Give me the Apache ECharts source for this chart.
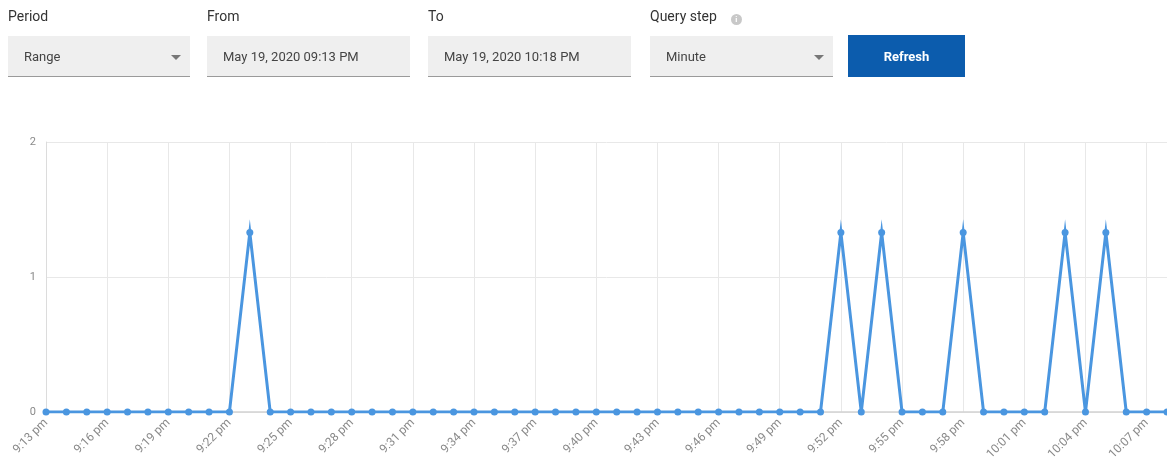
<!DOCTYPE html>
<html>
<head>
<meta charset="utf-8">
<script src="https://cdn.jsdelivr.net/npm/echarts@6/dist/echarts.min.js"></script>
<style>
  html, body { margin: 0; padding: 0; background: #fff; font-family: Roboto, "Noto Sans", sans-serif; }
  #wrap { position: relative; width: 1167px; height: 472px; overflow: hidden; }
  #chart { position: absolute; left: 0; top: 0; width: 1167px; height: 472px; }
  .lbl { position: absolute; top: 8px; font-size: 14px; color: #333; }
  .box { position: absolute; top: 36px; height: 41px; background: #efefef; border-bottom: 1px solid #9a9a9a;
         box-sizing: border-box; font-size: 13px; color: #444; line-height: 42px; padding-left: 16px; }
  .arrow { position: absolute; right: 9px; top: 19px; width: 0; height: 0;
           border-left: 5px solid transparent; border-right: 5px solid transparent; border-top: 5px solid #777; }
  .info { display: inline-block; width: 11px; height: 11px; border-radius: 50%; background: #c8c8c8;
          margin-left: 14px; vertical-align: -1px; color: #fff; font-size: 8px; font-weight: bold;
          text-align: center; line-height: 11px; }
  .btn { position: absolute; left: 848px; top: 35px; width: 117px; height: 42px; background: #0c5cad;
         color: #fff; font-weight: bold; font-size: 13px; text-align: center; line-height: 44px; }
</style>
</head>
<body>
<div id="wrap">
  <div id="chart"></div>
  <div class="lbl" style="left:8px">Period</div>
  <div class="box" style="left:8px;width:182px">Range<span class="arrow"></span></div>
  <div class="lbl" style="left:207px">From</div>
  <div class="box" style="left:207px;width:203px">May 19, 2020 09:13 PM</div>
  <div class="lbl" style="left:428px">To</div>
  <div class="box" style="left:428px;width:203px">May 19, 2020 10:18 PM</div>
  <div class="lbl" style="left:650px">Query step<span class="info">i</span></div>
  <div class="box" style="left:650px;width:183px">Minute<span class="arrow"></span></div>
  <div class="btn">Refresh</div>
</div>
<script>
// One sample per minute, 9:13 pm to 10:08 pm
const minutes = [
  '9:13 pm','9:14 pm','9:15 pm','9:16 pm','9:17 pm','9:18 pm','9:19 pm','9:20 pm',
  '9:21 pm','9:22 pm','9:23 pm','9:24 pm','9:25 pm','9:26 pm','9:27 pm','9:28 pm',
  '9:29 pm','9:30 pm','9:31 pm','9:32 pm','9:33 pm','9:34 pm','9:35 pm','9:36 pm',
  '9:37 pm','9:38 pm','9:39 pm','9:40 pm','9:41 pm','9:42 pm','9:43 pm','9:44 pm',
  '9:45 pm','9:46 pm','9:47 pm','9:48 pm','9:49 pm','9:50 pm','9:51 pm','9:52 pm',
  '9:53 pm','9:54 pm','9:55 pm','9:56 pm','9:57 pm','9:58 pm','9:59 pm','10:00 pm',
  '10:01 pm','10:02 pm','10:03 pm','10:04 pm','10:05 pm','10:06 pm','10:07 pm','10:08 pm'
];
const counts = [
  0, 0, 0, 0, 0, 0, 0, 0,
  0, 0, 1.33, 0, 0, 0, 0, 0,
  0, 0, 0, 0, 0, 0, 0, 0,
  0, 0, 0, 0, 0, 0, 0, 0,
  0, 0, 0, 0, 0, 0, 0, 1.33,
  0, 1.33, 0, 0, 0, 1.33, 0, 0,
  0, 0, 1.33, 0, 1.33, 0, 0, 0
];
const yTicks = [0, 1, 2];

const chart = echarts.init(document.getElementById('chart'));
chart.setOption({
  animation: false,
  grid: { left: 46, right: 0, top: 142, bottom: 60, containLabel: false },
  xAxis: {
    type: 'category',
    data: minutes,
    boundaryGap: false,
    axisLine: { show: true, lineStyle: { color: '#d2d2d2', width: 1.5 } },
    axisTick: { show: false },
    axisLabel: { interval: 2, rotate: 45, color: '#8a8a8a', fontSize: 12, fontFamily: 'Roboto', margin: 9 },
    splitLine: { show: true, interval: 2, lineStyle: { color: '#e8e8e8', width: 1 } }
  },
  yAxis: {
    type: 'value',
    min: yTicks[0],
    max: yTicks[yTicks.length - 1],
    interval: 1,
    axisLine: { show: true, lineStyle: { color: '#dcdcdc' } },
    axisTick: { show: false },
    axisLabel: { color: '#8a8a8a', fontSize: 11, fontFamily: 'Roboto', margin: 10 },
    splitLine: { show: true, lineStyle: { color: '#e8e8e8', width: 1 } }
  },
  series: [{
    type: 'line',
    data: counts,
    symbol: 'circle',
    symbolSize: 7,
    showAllSymbol: true,
    clip: true,
    itemStyle: { color: '#4a96e0' },
    lineStyle: { color: '#4a96e0', width: 3, join: 'miter', miterLimit: 20 },
    z: 3
  }]
});
</script>
</body>
</html>
